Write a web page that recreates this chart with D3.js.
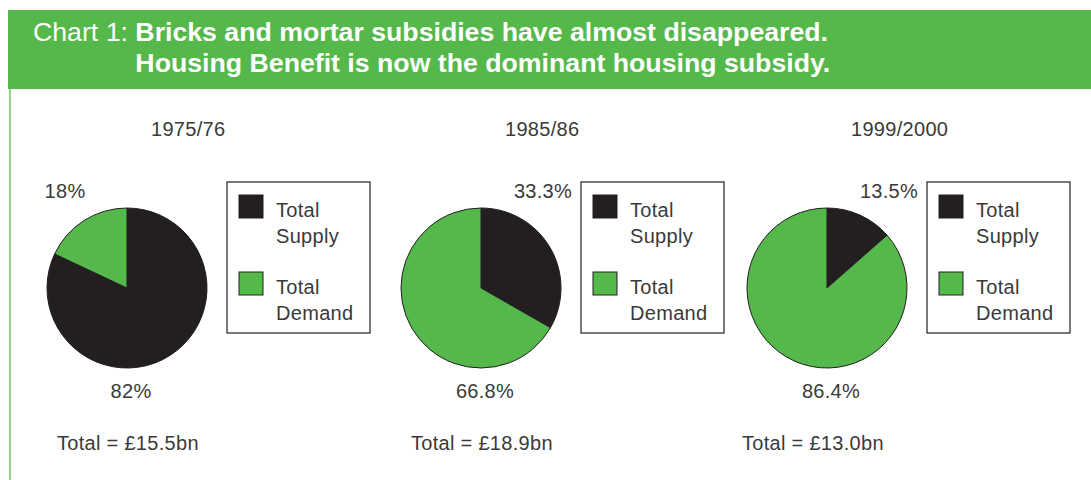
<!DOCTYPE html>
<html>
<head>
<meta charset="utf-8">
<script src="https://cdn.jsdelivr.net/npm/d3@7"></script>
<style>
  body { margin: 0; background: #fff; }
  text { font-family: "Liberation Sans", Arial, Helvetica, sans-serif; }
</style>
</head>
<body>
<div id="chart"></div>
<script>
// data
const years = ["1975/76", "1985/86", "1999/2000"];
const supplyPct = [82, 33.3, 13.5];
const demandPct = [18, 66.8, 86.4];
const totals = ["Total = £15.5bn", "Total = £18.9bn", "Total = £13.0bn"];
const categories = ["Total Supply", "Total Demand"];

const width = 1091, height = 480;
const green = "#55b84a", dark = "#231f20", textCol = "#3a3a3a";
const r = 80, cy = 288;

const svg = d3.select("#chart")
    .append("svg")
    .attr("width", width)
    .attr("height", height);

svg.append("rect").attr("width", width).attr("height", height).attr("fill", "#fff");

// header band
svg.append("rect")
    .attr("x", 8).attr("y", 10)
    .attr("width", width - 8).attr("height", 79)
    .attr("fill", green);

svg.append("line")
    .attr("x1", 10).attr("x2", 10)
    .attr("y1", 89).attr("y2", height)
    .attr("stroke", green).attr("stroke-opacity", 0.7)
    .attr("stroke-width", 1.8);

const title = svg.append("text")
    .attr("x", 33).attr("y", 41)
    .attr("fill", "#fff")
    .style("font-size", "26.7px");
const lead = title.append("tspan").text("Chart 1: ");
title.append("tspan").style("font-weight", "bold")
    .text("Bricks and mortar subsidies have almost disappeared.");
const indent = 33 + lead.node().getComputedTextLength();
svg.append("text")
    .attr("x", indent).attr("y", 72)
    .attr("fill", "#fff")
    .style("font-size", "26.7px")
    .style("font-weight", "bold")
    .text("Housing Benefit is now the dominant housing subsidy.");

const x = d3.scalePoint().domain(years).range([127, 827]);
const color = d3.scaleOrdinal().domain(categories).range([dark, green]);

const pie = d3.pie().sort(null).value(d => d.value);
const arc = d3.arc().innerRadius(0).outerRadius(r);

years.forEach((yr, i) => {
    const cx = i === 1 ? 481 : x(yr);
    const g = svg.append("g").attr("transform", `translate(${cx},${cy})`);
    const slices = pie([
        { key: categories[0], value: supplyPct[i] },
        { key: categories[1], value: demandPct[i] }
    ]);

    g.selectAll("path")
        .data(slices)
        .join("path")
        .attr("d", arc)
        .attr("fill", d => color(d.data.key))
        .attr("stroke", dark)
        .attr("stroke-width", 1);

    // small slice label sits above the pie, big one below
    slices.forEach(s => {
        const mid = (s.startAngle + s.endAngle) / 2;
        const small = s.value < 50;
        g.append("text")
            .attr("x", small ? Math.sign(Math.sin(mid)) * 62 : 4)
            .attr("y", small ? -r - 10 : r + 30)
            .attr("text-anchor", "middle")
            .attr("fill", textCol)
            .style("font-size", "20px")
            .style("letter-spacing", "0.3px")
            .text(s.value + "%");
    });

    g.append("text")
        .attr("x", 24).attr("y", -152)
        .attr("fill", textCol)
        .style("font-size", "20px")
        .style("letter-spacing", "0.3px")
        .text(yr);

    g.append("text")
        .attr("x", i === 2 ? -85 : -70).attr("y", r + 82)
        .attr("fill", textCol)
        .style("font-size", "20px")
        .style("letter-spacing", "0.3px")
        .text(totals[i]);

    // legend box
    const lg = g.append("g").attr("transform", `translate(${100},${-106})`);
    lg.append("rect")
        .attr("width", 143).attr("height", 151)
        .attr("fill", "#fff")
        .attr("stroke", dark).attr("stroke-width", 1.2);

    const items = lg.selectAll("g.item")
        .data(categories)
        .join("g")
        .attr("class", "item")
        .attr("transform", (d, j) => `translate(12, ${13 + j * 77})`);

    items.append("rect")
        .attr("width", 24).attr("height", 23)
        .attr("fill", d => color(d))
        .attr("stroke", dark).attr("stroke-width", 1);

    items.append("text")
        .attr("x", 37).attr("y", 22)
        .attr("fill", textCol)
        .style("font-size", "20px")
        .style("letter-spacing", "0.3px")
        .selectAll("tspan")
        .data(d => d.split(" "))
        .join("tspan")
        .attr("x", 37)
        .attr("dy", (d, k) => k === 0 ? 0 : 26)
        .text(d => d);
});
</script>
</body>
</html>
